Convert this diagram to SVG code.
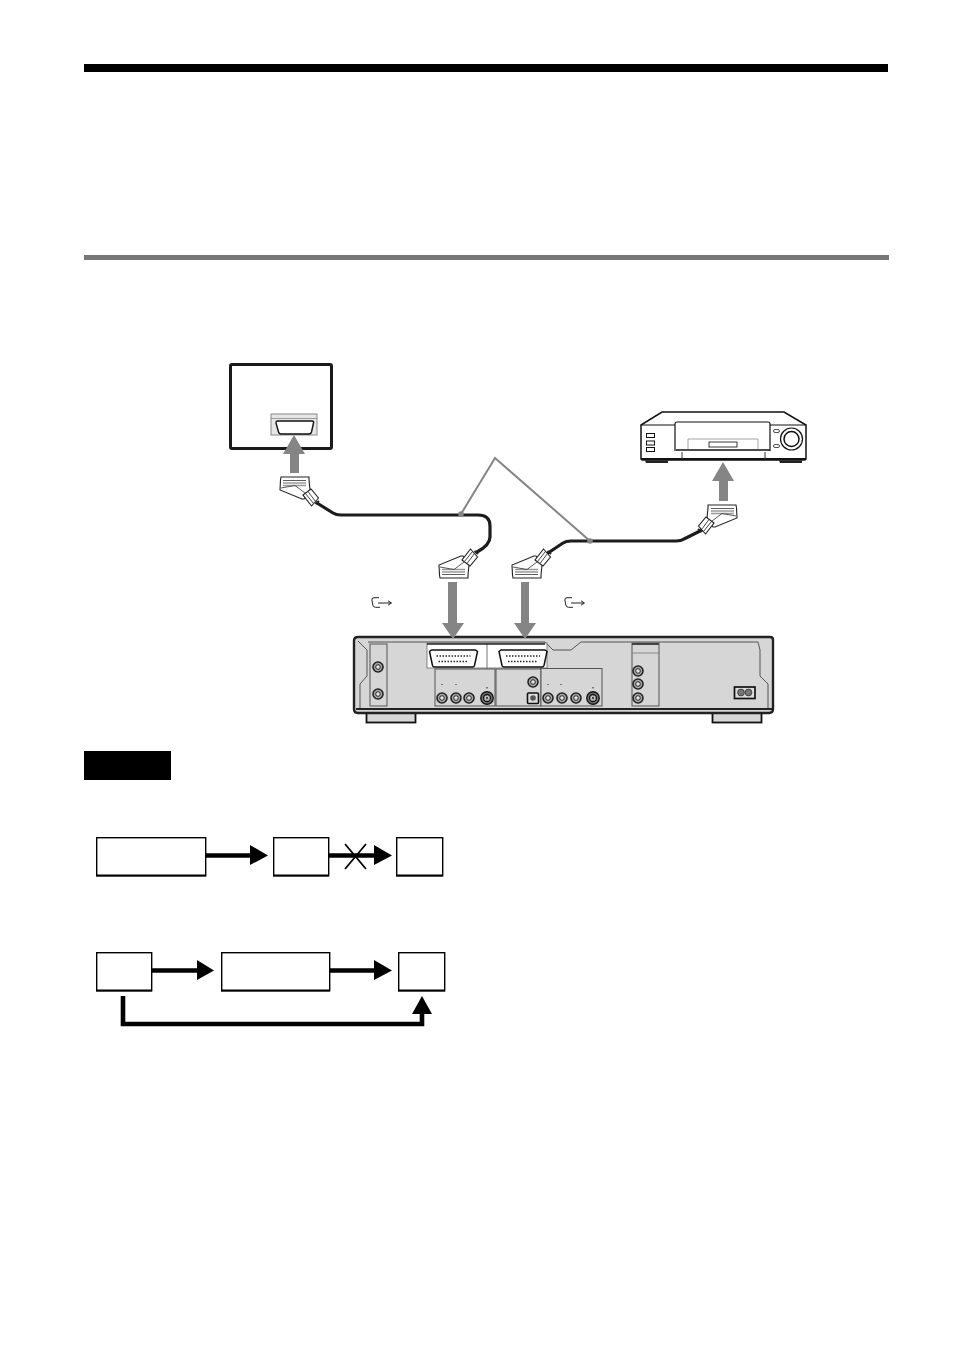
<svg xmlns="http://www.w3.org/2000/svg" xmlns:xlink="http://www.w3.org/1999/xlink" width="954" height="1352" viewBox="0 0 954 1352">
<style>
.box{fill:#fff;stroke:#000;stroke-width:1.4}
.base{stroke:#000;stroke-width:2.2;fill:none}
.flow{fill:none;stroke:#000;stroke-width:4.6}
.head{fill:#000}
.gArrow{fill:#858585}
.cable{fill:none;stroke:#1c1c1c;stroke-width:3.2;stroke-linecap:round;stroke-linejoin:round}
.leader{fill:none;stroke:#858585;stroke-width:2}
.ln{fill:none;stroke:#333;stroke-width:1}
.face{fill:#d6d6d6;stroke:#555;stroke-width:1}
</style>
<defs>
<g id="plug">
<path d="M-13.500 3L-13 0H15V3L16 13L10 22L8 22L-14 13Z" fill="#fff" stroke="#222" stroke-width="1.100"/>
<path d="M-11 3.500H12" stroke="#333" stroke-width=".8"/>
<path d="M-11 6H12M-11 8.500H12" stroke="#999" stroke-width="1.300"/>
<path d="M-13 11L1 8.500L11 16" fill="none" stroke="#444" stroke-width=".9"/>
<path d="M9 18L17 12L24.500 21L17.500 29Z" fill="#fff" stroke="#222" stroke-width="1.100"/>
<path d="M11.500 16.500L19.500 26.500M14 14.500L21.500 24.500" stroke="#333" stroke-width=".9"/>
<path d="M21.500 27L25 24" stroke="#222" stroke-width="2"/>
</g>
<g id="jack">
<circle r="5" fill="#aaa" stroke="#222" stroke-width="1.600"/>
<circle r="2.300" fill="#e8e8e8" stroke="#222" stroke-width="1"/>
</g>
<g id="sjack">
<circle r="6.200" fill="#777" stroke="#111" stroke-width="1.400"/>
<circle r="3.500" fill="#bbb" stroke="#111" stroke-width="1.300"/>
<circle r="1" fill="#222"/>
</g>
<g id="socket">
<path d="M-22 -8.500H22L24 -7L21 7Q20.500 8.500 19 8.500H-19Q-20.500 8.500 -21 7L-24 -7Z" fill="#fff" stroke="#111" stroke-width="1.500"/>
<path d="M-17 -2.500H17M-15 3H15" fill="none" stroke="#222" stroke-width="1.500" stroke-dasharray="1.500 1.500"/>
</g>
<path id="scartIcon" d="M8 .7H3Q.6 .7 .9 3L1.800 8Q2.300 10.300 4.500 10.300H9M7 6H20M17 3.800L20.500 6L17 8.200" fill="none" stroke="#222" stroke-width="1"/>
</defs>
<rect width="954" height="1352" fill="#fff"/>
<rect id="top-rule" x="84" y="64" width="804" height="8" fill="#000"/>
<rect id="section-rule" x="84" y="255" width="805" height="5" fill="#777"/>

<g id="tv">
<rect x="230.500" y="364.500" width="101" height="84" rx="1.500" fill="#fff" stroke="#1a1a1a" stroke-width="3"/>
<rect x="271" y="414" width="46" height="21" fill="#e6e6e6" stroke="#888" stroke-width="1"/>
<path d="M271 418.500H317" stroke="#888" stroke-width=".8"/>
<path d="M277 421H312Q314 421 313.500 423L311.500 432Q311 434 309 434H281Q279 434 278.500 432L276 423Q276 421 277 421Z" fill="#fff" stroke="#111" stroke-width="1.400"/>
</g>

<g id="vcr">
<path d="M662 412H784L806 425V458.500Q806 460 804 460H643Q641 460 641 458.500V425Z" fill="#fff" stroke="#111" stroke-width="1.500"/>
<path d="M641 425H806" stroke="#111" stroke-width="1.200"/>
<path d="M641 459H806" stroke="#111" stroke-width="2"/>
<path d="M645 460.500H668V463H646ZM779 460.500H802V463H780Z" fill="#222"/>
<path d="M675 451V424Q675 422 677 422H768Q770 422 770 424V451" fill="#fff" stroke="#111" stroke-width="1.200"/>
<path d="M676 450H770" stroke="#111" stroke-width="1.500"/>
<path d="M682 452V459M765 452V459" class="ln"/>
<path d="M688 449V439H758V449" fill="none" stroke="#999" stroke-width=".9"/>
<rect x="709" y="442" width="28" height="5" fill="#fff" stroke="#222" stroke-width=".9"/>
<rect x="646.500" y="433.500" width="8" height="4" fill="#fff" stroke="#111"/>
<rect x="646.500" y="441" width="8" height="4" fill="#fff" stroke="#111"/>
<rect x="646.500" y="447.500" width="8" height="4" fill="#fff" stroke="#111"/>
<rect x="773.500" y="429.500" width="6" height="3" rx="1.500" fill="#fff" stroke="#222" stroke-width=".8"/>
<rect x="773.500" y="444.500" width="6" height="3" rx="1.500" fill="#fff" stroke="#222" stroke-width=".8"/>
<circle cx="791.500" cy="439" r="11" fill="#fff" stroke="#111" stroke-width="1.200"/>
<circle cx="791.500" cy="439" r="7.500" fill="#fff" stroke="#111" stroke-width="1.500"/>
</g>

<g id="dvd-recorder">
<rect x="366.500" y="712" width="49" height="10.500" fill="#d6d6d6" stroke="#111" stroke-width="1.800"/>
<rect x="712.500" y="712" width="49" height="10.500" fill="#d6d6d6" stroke="#111" stroke-width="1.800"/>
<path d="M358 637H770Q773 637 773 640V709Q773 713 769 713H358Q354 713 354 709V641Q354 637 358 637Z" fill="#d6d6d6" stroke="#222" stroke-width="2.400"/>
<path d="M368 642H545L553 650H571L581 642H758L760 650V676L768 684V708" fill="none" stroke="#555" stroke-width="1"/>
<path d="M360 708V684L367 676V650L358 641" fill="none" stroke="#555" stroke-width="1"/>
<path d="M356 709H772" stroke="#222" stroke-width="2"/>
<rect x="370" y="644" width="17" height="62" class="face"/>
<rect x="427" y="643" width="120" height="25" fill="#fff" stroke="#666" stroke-width=".8"/>
<path d="M487 643V669" stroke="#777" stroke-width="1"/>
<path d="M427 644H545" stroke="#222" stroke-width="1.500"/>
<rect x="435" y="669" width="60" height="37" class="face"/>
<rect x="496" y="669" width="45" height="37" class="face"/>
<rect x="541" y="668.500" width="61" height="37.500" class="face"/>
<rect x="632" y="643" width="27" height="63" class="face"/>
<path d="M632 644H659" stroke="#444" stroke-width="2"/>
<path d="M632 653H659" stroke="#777" stroke-width=".8"/>
<use xlink:href="#socket" href="#socket" x="453.500" y="658.500"/>
<use xlink:href="#socket" href="#socket" x="523" y="658.500"/>
<use xlink:href="#jack" href="#jack" x="378" y="667"/>
<use xlink:href="#jack" href="#jack" x="378" y="694"/>
<use xlink:href="#jack" href="#jack" x="442" y="698"/>
<use xlink:href="#jack" href="#jack" x="456" y="698"/>
<use xlink:href="#jack" href="#jack" x="469" y="698"/>
<use xlink:href="#sjack" href="#sjack" x="487" y="698"/>
<use xlink:href="#jack" href="#jack" x="533" y="682"/>
<rect x="527.500" y="693" width="11" height="10.500" rx="1" fill="#ddd" stroke="#111" stroke-width="1.600"/>
<circle cx="533" cy="698" r="2.800" fill="#555"/>
<use xlink:href="#jack" href="#jack" x="548" y="698"/>
<use xlink:href="#jack" href="#jack" x="562" y="698"/>
<use xlink:href="#jack" href="#jack" x="576" y="698"/>
<use xlink:href="#sjack" href="#sjack" x="593" y="698"/>
<use xlink:href="#jack" href="#jack" x="638" y="671"/>
<use xlink:href="#jack" href="#jack" x="638" y="684"/>
<use xlink:href="#jack" href="#jack" x="638" y="698"/>
<rect x="734.500" y="687" width="20.500" height="11.500" fill="#ddd" stroke="#111" stroke-width="1.700"/>
<circle cx="741" cy="692.500" r="3.400" fill="#777" stroke="#222" stroke-width=".7"/>
<circle cx="748.500" cy="692.500" r="3.400" fill="#777" stroke="#222" stroke-width=".7"/>
<path d="M442 684V685M456 684V685M487 687V688.500M548 684V685M561 684V685M593 687V688.500" stroke="#222" stroke-width="1"/>
</g>

<g id="connectors">
<path class="cable" d="M317 503L333 513Q336 515 341 515H478Q490 515 490 526V537Q490 545 477 552"/>
<path class="cable" d="M548 553L563 543Q566 541 571 541H676Q681 541 684 539L702 530"/>
<path class="leader" d="M461 514L495 458L590 541"/>
<circle cx="461" cy="514" r="2.800" fill="#858585"/>
<circle cx="590" cy="541" r="2.800" fill="#858585"/>
<path class="gArrow" d="M290 473V454H283L294 435L305 454H299V473Z"/>
<path class="gArrow" d="M719 501V481H712L723 462L734 481H728V501Z"/>
<path class="gArrow" d="M448 582V623H442L453 639L464 623H457V582Z"/>
<path class="gArrow" d="M521 582V623H514L525 639L536 623H529V582Z"/>
<path class="flow" d="M206 855.500H252"/><path class="head" d="M250 845L268 855.500L250 865Z"/>
<path class="flow" d="M329 855.500H376"/><path class="head" d="M374 845L392 855.500L374 865Z"/>
<path d="M345 844L366 869M366 844L345 869" stroke="#000" stroke-width="1.800" fill="none"/>
<path class="flow" d="M152 970.500H199"/><path class="head" d="M197 960L214 970.500L197 980Z"/>
<path class="flow" d="M330 970.500H376"/><path class="head" d="M374 960L392 970.500L374 980Z"/>
<path class="flow" d="M123 996V1024H422V1011"/><path class="head" d="M412 1014L422 996L432 1014Z"/>
</g>

<g id="scart-plugs">
<use xlink:href="#plug" href="#plug" transform="translate(294 477)"/>
<use xlink:href="#plug" href="#plug" transform="translate(453 578) scale(1 -1)"/>
<use xlink:href="#plug" href="#plug" transform="translate(526 578) scale(1 -1)"/>
<use xlink:href="#plug" href="#plug" transform="translate(723 505) scale(-1 1)"/>
</g>

<g id="icons">
<use xlink:href="#scartIcon" href="#scartIcon" x="371" y="597"/>
<use xlink:href="#scartIcon" href="#scartIcon" x="564" y="597"/>
</g>

<g id="notes-label"><rect x="84" y="751" width="87" height="29" fill="#000"/></g>

<g id="flow-a1"><rect class="box" x="96.700" y="837.700" width="109" height="38"/><path class="base" d="M96 875.500H206"/></g>
<g id="flow-a2"><rect class="box" x="273.700" y="837.700" width="55" height="38"/><path class="base" d="M273 875.500H329"/></g>
<g id="flow-a3"><rect class="box" x="396.700" y="837.700" width="46" height="38"/><path class="base" d="M396 875.500H443"/></g>
<g id="flow-b1"><rect class="box" x="96.700" y="952.700" width="55" height="38"/><path class="base" d="M96 990.500H152"/></g>
<g id="flow-b2"><rect class="box" x="221.700" y="952.700" width="108" height="38"/><path class="base" d="M221 990.500H330"/></g>
<g id="flow-b3"><rect class="box" x="398.700" y="952.700" width="46" height="38"/><path class="base" d="M398 990.500H445"/></g>
</svg>
